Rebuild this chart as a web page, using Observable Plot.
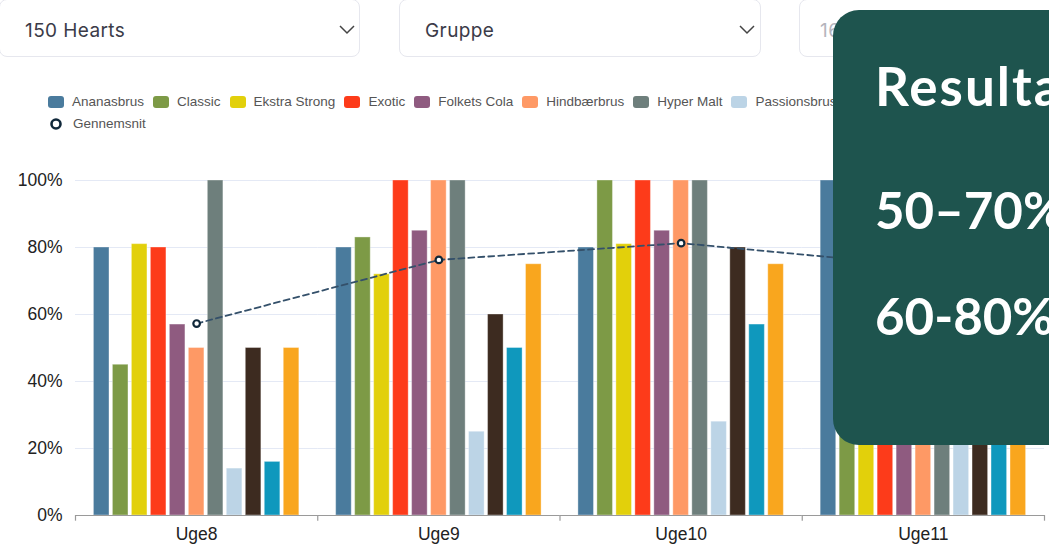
<!DOCTYPE html>
<html>
<head>
<meta charset="utf-8">
<script src="https://cdn.jsdelivr.net/npm/d3@7"></script>
<script src="https://cdn.jsdelivr.net/npm/@observablehq/plot@0.6"></script>
<style>
  html, body { margin: 0; padding: 0; background: #fff; }
  body { width: 1049px; height: 548px; overflow: hidden; position: relative; font-family: "Liberation Sans", Arial, sans-serif; }
  .select { position: absolute; top: -1px; height: 58px; border: 1px solid #e6e7ee; border-radius: 8px; box-sizing: border-box; background: #fff; font-family: Inter, "Open Sans", sans-serif; font-size: 19px; letter-spacing: 0.4px; color: #3b3b48; }
  .select span { position: absolute; left: 25px; top: 19px; }
  .select svg { position: absolute; top: 25px; }
  .legend { position: absolute; left: 48px; font-size: 13.5px; color: #555; white-space: nowrap; display: flex; align-items: center; }
  .legend .item { display: flex; align-items: center; margin-right: 9px; }
  .legend .sw { width: 16px; height: 12px; border-radius: 3px; margin-right: 8px; }
  #chart { position: absolute; left: 0; top: 165px; width: 1049px; height: 380px; }
  #chart svg { position: absolute; left: 0; top: 0; }
  .panel { position: absolute; left: 833px; top: 10px; width: 260px; height: 435px; background: #1e544e; border-radius: 26px; color: #fff; font-family: Lato, "Open Sans", sans-serif; font-weight: 700; z-index: 10; }
  .panel div { position: absolute; left: 42px; font-size: 51px; white-space: nowrap; line-height: 1; }
</style>
</head>
<body>
<div class="select" style="left:-1px;width:361px;"><span>150 Hearts</span><svg width="16" height="10" style="left:339px"><polyline points="1,1 8,8 15,1" fill="none" stroke="#444" stroke-width="1.5"/></svg></div>
<div class="select" style="left:399px;width:362px;"><span>Gruppe</span><svg width="16" height="10" style="left:339px"><polyline points="1,1 8,8 15,1" fill="none" stroke="#444" stroke-width="1.5"/></svg></div>
<div class="select" style="left:799px;width:300px;"><span style="left:20px;color:#b5b5bd">16.02.2024</span></div>

<div class="legend" id="legend1" style="top:94px;"></div>
<div class="legend" style="top:116px;">
  <div class="item"><svg width="16" height="14" style="margin-right:9px"><circle cx="8" cy="7" r="4.5" fill="#fff" stroke="#10283a" stroke-width="2.6"/></svg><span>Gennemsnit</span></div>
</div>

<div id="chart"></div>

<div class="panel">
  <div style="top:49px;font-size:53px;letter-spacing:2px;">Resultat</div>
  <div style="top:174px;">50–70%</div>
  <div style="top:280px;">60-80%</div>
</div>

<script>
const weeks = ["Uge8", "Uge9", "Uge10", "Uge11"];
const series = ["Ananasbrus", "Classic", "Ekstra Strong", "Exotic", "Folkets Cola", "Hindbærbrus", "Hyper Malt", "Passionsbrus", "Porter", "Blå Sport", "Appelsin"];
const colors = ["#4a7b9d", "#7d9a46", "#e2d00b", "#fd3b1a", "#8f5b80", "#fe9965", "#6e7f7c", "#bcd4e6", "#3d2b20", "#0f98bd", "#f9a61e"];
const uge8 = [80, 45, 81, 80, 57, 50, 100, 14, 50, 16, 50];
const uge9 = [80, 83, 72, 100, 85, 100, 100, 25, 60, 50, 75];
const uge10 = [80, 100, 81, 100, 85, 100, 100, 28, 80, 57, 75];
const uge11 = [100, 70, 75, 85, 80, 90, 100, 40, 60, 50, 70];
const average = [57.3, 76.3, 81.3, 74.5];
const yTicks = [0, 20, 40, 60, 80, 100];

const weekValues = [uge8, uge9, uge10, uge11];
const data = [];
weeks.forEach((w, wi) => series.forEach((s, si) => data.push({week: w, series: s, value: weekValues[wi][si]})));
const avgData = weeks.map((w, i) => ({week: w, value: average[i]}));

// legend
const leg = document.getElementById("legend1");
series.forEach((s, i) => {
  const it = document.createElement("div");
  it.className = "item";
  it.innerHTML = `<div class="sw" style="background:${colors[i]}"></div><span>${s}</span>`;
  leg.appendChild(it);
});

const W = 1049, H = 380, mt = 15, mb = 30, ml = 75, mr = 5;
const bw = (W - ml - mr) / weeks.length;
const axisColor = "#9a9a9a";

const bars = Plot.plot({
  width: W, height: H, marginTop: mt, marginBottom: mb, marginLeft: ml, marginRight: mr,
  style: {fontFamily: "'Liberation Sans', Arial, sans-serif", fontSize: "17px", color: "#222", background: "transparent", overflow: "visible"},
  fx: {domain: weeks, paddingInner: 0, paddingOuter: 0, round: false, label: null},
  x: {domain: series, paddingInner: 0.18, paddingOuter: 0.97, round: false, axis: null},
  y: {domain: [0, 100], axis: null},
  color: {domain: series, range: colors},
  marks: [
    Plot.gridY(yTicks, {stroke: "#e4e9f5", strokeOpacity: 1, strokeWidth: 1.2}),
    Plot.barY(data, {fx: "week", x: "series", y: "value", fill: "series", stroke: "#ffffff", strokeOpacity: 0.35, strokeWidth: 1}),
    Plot.ruleY([0], {stroke: axisColor, strokeWidth: 1.2}),
    Plot.axisY({ticks: yTicks, tickFormat: d => d + "%", tickSize: 0, tickPadding: 13, fontSize: 17.5, label: null, anchor: "left"}),
    Plot.axisFx({anchor: "bottom", tickSize: 0, tickPadding: 12, fontSize: 17.5, label: null})
  ]
});

const line = Plot.plot({
  width: W, height: H, marginTop: mt, marginBottom: mb, marginLeft: ml, marginRight: mr,
  style: {background: "transparent", overflow: "visible"},
  x: {type: "band", domain: weeks, padding: 0, round: false, axis: null},
  y: {domain: [0, 100], axis: null},
  marks: [
    Plot.ruleX(weeks, {x: d => d, dx: -bw / 2, y1: 0, y2: -1.7, stroke: axisColor, strokeWidth: 1.2}),
    Plot.ruleX([weeks[weeks.length - 1]], {x: d => d, dx: bw / 2, y1: 0, y2: -1.7, stroke: axisColor, strokeWidth: 1.2}),
    Plot.lineY(avgData, {x: "week", y: "value", stroke: "#34506a", strokeWidth: 1.8, strokeDasharray: "6,4"}),
    Plot.dot(avgData, {x: "week", y: "value", r: 3.3, fill: "#fff", stroke: "#10283a", strokeWidth: 2.2})
  ]
});

const chart = document.getElementById("chart");
chart.appendChild(bars);
chart.appendChild(line);
</script>
</body>
</html>
